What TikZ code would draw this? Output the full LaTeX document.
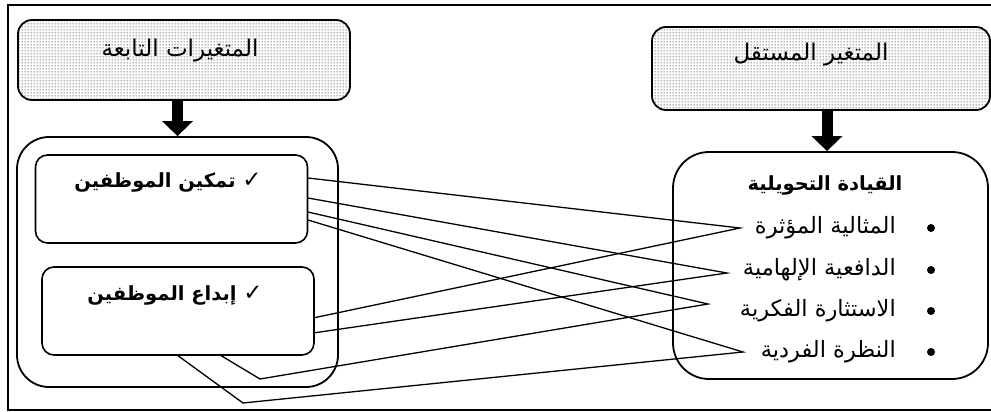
\documentclass[tikz,border=0pt]{standalone}
\usepackage{fontspec}
\newfontfamily\arabicfont[Script=Arabic]{DejaVu Sans}
\TeXXeTstate=1
\usetikzlibrary{arrows.meta,patterns.meta,positioning}
\tikzdeclarepattern{
  name=hdots,
  type=uncolored,
  bounding box={(0pt,0pt) and (3pt,3pt)},
  tile size={(3pt,3pt)},
  code={\fill (1.5pt,1.5pt) circle (0.75pt);}
}
\newcommand{\tick}{{\mdseries\fontsize{23}{23}\selectfont ✓}}
\tikzset{
  headbox/.style={draw,line width=1.8pt,rounded corners=14pt,pattern=hdots,
    pattern color=black!80,inner sep=0pt},
  groupbox/.style={draw,line width=1.8pt,inner sep=0pt},
  inbox/.style={draw,line width=1.6pt,rounded corners=12pt,minimum width=272pt,
    minimum height=88pt,inner sep=0pt},
  headtext/.style={font=\arabicfont\fontsize{23}{26}\selectfont,inner sep=1pt},
  boldtext/.style={font=\arabicfont\bfseries\fontsize{19.5}{23}\selectfont,inner sep=1pt},
  itemtext/.style={font=\arabicfont\fontsize{22.5}{26}\selectfont,inner sep=1pt,anchor=east},
  bullet/.style={circle,fill,inner sep=0pt,minimum size=8pt},
  bigarrow/.style={line width=11pt,-{Triangle[width=30pt,length=15pt]}},
  link/.style={line width=1.3pt}
}

\begin{document}
\begin{tikzpicture}[x=1pt,y=-1pt]
  \useasboundingbox (0,0) rectangle (991,412);
  % outer frame
  \draw[line width=1.5pt] (991,5) -- (8,5) -- (8,410) -- (991,410);

  % dependent side
  \node[headbox,minimum width=332pt,minimum height=80pt] (dephead) at (184,60) {};
  \node[headtext] (deptitle) at (180,51) {\beginR المتغيرات التابعة\endR};
  \node[groupbox,rounded corners=32pt,minimum width=321pt,minimum height=250pt]
    (depgroup) at (177.5,262) {};
  \node[inbox] (emp1) at (171.5,199) {};
  \node[boldtext] (emp1txt) at (168,182) {\beginR\tick{} تمكين الموظفين\endR};
  \node[inbox] (emp2) at (178,311) {};
  \node[boldtext] (emp2txt) at (175,295) {\beginR\tick{} إبداع الموظفين\endR};

  % independent side
  \node[headbox,minimum width=338pt,minimum height=83pt] (indhead) at (821,68.5) {};
  \node[headtext] (indtitle) at (811,55) {\beginR المتغير المستقل\endR};
  \node[groupbox,rounded corners=36pt,minimum width=315pt,minimum height=227pt]
    (indgroup) at (830.5,265.5) {};
  \node[boldtext] (tlead) at (825,185) {\beginR القيادة التحويلية\endR};
  \foreach \n/\y/\lab in {1/228/المثالية المؤثرة,2/270/الدافعية الإلهامية,
                         3/311/الاستثارة الفكرية,4/352/النظرة الفردية}{
    \node[itemtext] (item\n) at (897,\y) {\beginR \lab\endR};
    \node[bullet] (dot\n) at (931,\y) {};
  }

  \draw[bigarrow] (dephead.south -| depgroup.north) -- (depgroup.north);
  \draw[bigarrow] (indhead.south -| 827,0) -- (indgroup.north -| 827,0);

  % link points
  \coordinate (a1) at (308,178);
  \coordinate (a2) at (308,198);
  \coordinate (a3) at (308,212);
  \coordinate (a4) at (308,220);
  \coordinate (b1) at (313,318);
  \coordinate (b2) at (313,333);
  \coordinate (b3) at (220,355);
  \coordinate (b4) at (177,355);
  \coordinate (k3) at (260,379);
  \coordinate (k4) at (243,403);
  \coordinate (t1) at (740,228);
  \coordinate (t2) at (727,273);
  \coordinate (t3) at (708,304);
  \coordinate (t4) at (743,352);

  \draw[link] (a1) -- (t1) -- (b1);
  \draw[link] (a2) -- (t2) -- (b2);
  \draw[link] (a3) -- (t3) -- (k3) -- (b3);
  \draw[link] (a4) -- (t4) -- (k4) -- (b4);
\end{tikzpicture}
\end{document}
